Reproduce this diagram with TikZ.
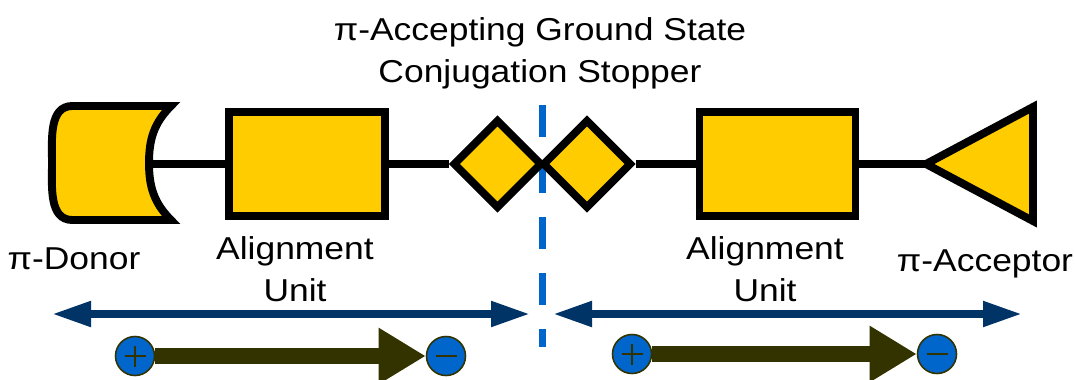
\documentclass[tikz,border=0pt]{standalone}
\usepackage{fontspec}
\setmainfont{Liberation Sans}[FakeStretch=1.12]
\usetikzlibrary{arrows.meta,shapes.geometric}
\definecolor{unitfill}{HTML}{FFCC00}
\definecolor{spannavy}{HTML}{003366}
\definecolor{stopblue}{HTML}{0066CC}
\definecolor{flowolive}{HTML}{333300}

\begin{document}
\begin{tikzpicture}[
  unit/.style={draw=black, fill=unitfill, line width=4.5pt, inner sep=0pt},
  alignunit/.style={unit, rectangle, minimum width=3.12cm, minimum height=2.08cm},
  stopper/.style={unit, diamond, minimum size=1.79cm},
  link/.style={line width=4.5pt},
  lbl/.style={font=\fontsize{18pt}{23.9pt}\selectfont, align=center, anchor=base, inner sep=0pt},
  span/.style={draw=spannavy, line width=4.5pt, arrows={Triangle[length=0.78cm,width=0.48cm]-Triangle[length=0.78cm,width=0.48cm]}},
  charge/.style={circle, draw=flowolive, fill=stopblue, line width=0.9pt, minimum size=0.78cm, inner sep=0pt},
  pluscharge/.style={charge, path picture={\draw[flowolive, line width=1.1pt] (path picture bounding box.center) +(-0.21,0) -- +(0.21,0) +(0,-0.21) -- +(0,0.21);}},
  minuscharge/.style={charge, path picture={\draw[flowolive, line width=1.1pt] (path picture bounding box.center) +(-0.21,0) -- +(0.21,0);}},
  flow/.style={draw=flowolive, line width=9pt, arrows={-Triangle[length=0.94cm,width=1.06cm]}},
]
\useasboundingbox (0,0) rectangle (21.5,7.58);

% --------
\coordinate (cuttop) at (10.85,5.48);
\coordinate (cutbot) at (10.85,0.64);
\draw [stopblue, line width=4.3pt, dash pattern=on 0.64cm off 0.48cm] (cuttop) -- (cutbot);

% --------
\draw [unit] (1.45,5.46) to[out=180,in=90] (1.04,4.32) to[out=-90,in=180] (1.45,3.18)
  -- (3.42,3.18) to[out=135,in=-90] (2.98,4.32) to[out=90,in=-135] (3.42,5.46) -- cycle;
\coordinate (dn) at (2.98,4.30);

\node [alignunit] (au1) at (6.14,4.30) {};
\node [stopper] (st1) at (9.95,4.30) {};
\node [stopper] (st2) at (11.74,4.30) {};
\node [alignunit] (au2) at (15.55,4.30) {};

\coordinate (acc) at (18.52,4.30);
\coordinate (acctop) at (20.66,5.44);
\coordinate (accbot) at (20.66,3.16);
\draw [unit] (acc) -- (acctop) -- (accbot) -- cycle;

\draw [link] (dn) -- (au1);
\draw [link] (au1) -- (st1);
\draw [link] (st2) -- (au2);
\draw [link] (au2) -- (acc);

% --------
\node [lbl] (title) at (10.8,5.94) {π-Accepting Ground State\\Conjugation Stopper};
\node [lbl] (donorlbl) at (1.48,2.20) {π-Donor};
\node [lbl] (au1lbl) at (5.90,1.56) {Alignment\\Unit};
\node [lbl] (au2lbl) at (15.30,1.56) {Alignment\\Unit};
\node [lbl] (acclbl) at (19.70,2.16) {π-Acceptor};

% --------
\coordinate (sl1) at (1.04,1.30);
\coordinate (sl2) at (10.60,1.30);
\coordinate (sr1) at (11.06,1.30);
\coordinate (sr2) at (20.44,1.30);
\draw [span] (sl1) -- (sl2);
\draw [span] (sr1) -- (sr2);

% --------
\node [pluscharge] (p1) at (2.70,0.46) {};
\node [minuscharge] (m1) at (8.92,0.46) {};
\node [pluscharge] (p2) at (12.64,0.50) {};
\node [minuscharge] (m2) at (18.74,0.50) {};
\draw [flow] (p1) -- (m1);
\draw [flow] (p2) -- (m2);

\end{tikzpicture}
\end{document}
